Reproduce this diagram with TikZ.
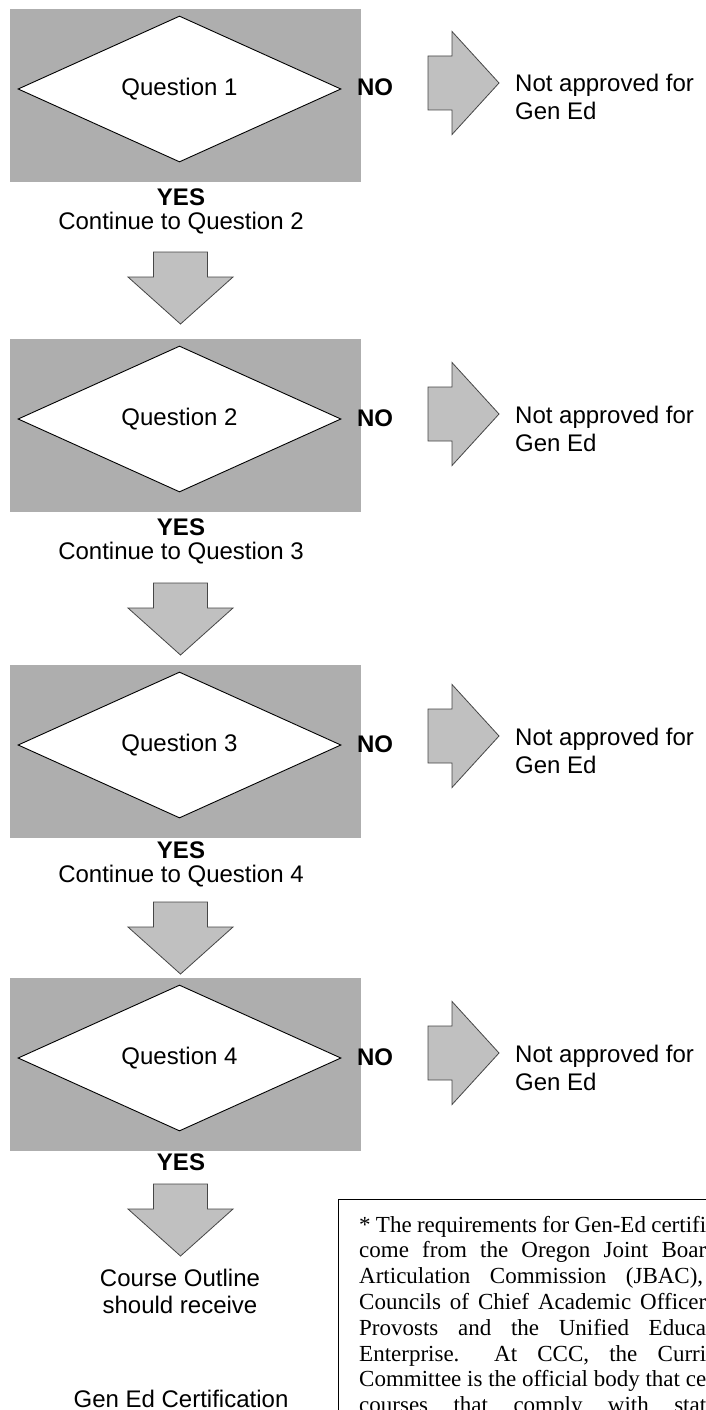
\documentclass[tikz,border=0pt]{standalone}
\usepackage{fontspec}
\setmainfont{Liberation Sans}
\newfontfamily\notefont{Liberation Serif}
\usetikzlibrary{shapes.geometric}

\definecolor{panelgray}{RGB}{174,174,174}
\definecolor{arrowfill}{RGB}{192,192,192}
\definecolor{arrowedge}{RGB}{70,70,70}

\tikzset{
  panel/.style={fill=panelgray},
  question/.style={diamond, draw=black, fill=white, line width=0.9pt,
    minimum width=323pt, minimum height=146pt, inner sep=0pt,
    font=\fontsize{24}{28}\selectfont},
  caption/.style={inner sep=0pt, anchor=base, font=\fontsize{24}{28}\selectfont},
  answer/.style={caption, font=\fontsize{24}{28}\selectfont\bfseries},
  blockarrow/.style={fill=arrowfill, draw=arrowedge, line width=0.8pt},
  rightblock/.pic={\draw[blockarrow] (0,-27) -- (24,-27) -- (24,-51.5) -- (71,0)
    -- (24,51.5) -- (24,27) -- (0,27) -- cycle;},
  downblock/.pic={\draw[blockarrow] (-27,0) -- (27,0) -- (27,25) -- (52.5,25)
    -- (0,72) -- (-52.5,25) -- (-27,25) -- cycle;},
  noteline/.style={inner sep=0pt, anchor=base west,
    font=\notefont\fontsize{23}{26}\selectfont\frenchspacing}
}
\newcommand{\justline}[2]{\hbox to #1{\spaceskip=0.25em plus 1fil minus 0.05em\relax #2}}

\begin{document}
\begin{tikzpicture}[x=1pt, y=-1pt]
\useasboundingbox (0,0) rectangle (706,1410);
\clip (0,0) rectangle (706,1410);
% the four questions
\foreach \i/\c/\r/\s in {1/89/83/197, 2/419/414/527, 3/745/736/850, 4/1058/1053/1162} {
  \fill[panel] (10,\c-80) rectangle (361,\c+92.5);
  \node[question] (q\i) at (179.5,\c) {Question \i};
  \node[answer] (no\i) at (375,\c+7) {NO};
  \pic at (428,\r) {rightblock};
  \node[caption, anchor=base west] (rej\i) at (515,\r+9) {Not approved for};
  \node[caption, anchor=base west] (gen\i) at (515,\r+37) {Gen Ed};
  \node[answer] (yes\i) at (181,\s+8.5) {YES};
}
% go on to the next question
\foreach \i/\s/\d in {2/197/252, 3/527/583, 4/850/902} {
  \node[caption] (cont\i) at (181,\s+32.5) {Continue to Question \i};
  \pic at (180.5,\d) {downblock};
}
\pic at (180.5,1184) {downblock};
\node[caption] (outline) at (180,1286.5) {Course Outline};
\node[caption] (receive) at (180,1313.5) {should receive};
\node[caption] (cert) at (181,1407) {Gen Ed Certification};
% footnote box, cut by the page edge
\draw[line width=0.9pt] (338,1199) rectangle (760,1460);
\node[noteline] (note1) at (359,1232) {\justline{347pt}{* The requirements for Gen-Ed certifi}};
\node[noteline] (note2) at (359,1257.8) {\justline{347pt}{come from the Oregon Joint Boar}};
\node[noteline] (note3) at (359,1283.6) {\justline{344pt}{Articulation Commission (JBAC),}};
\node[noteline] (note4) at (359,1309.4) {\justline{347pt}{Councils of Chief Academic Officer}};
\node[noteline] (note5) at (359,1335.2) {\justline{347pt}{Provosts and the Unified Educa}};
\node[noteline] (note6) at (359,1361) {\justline{347pt}{Enterprise. \hskip 0pt plus 1fil At CCC, the Curri}};
\node[noteline] (note7) at (359,1386.8) {\justline{347pt}{Committee is the official body that ce}};
\node[noteline] (note8) at (359,1412.6) {\justline{347pt}{courses that comply with stat}};
\end{tikzpicture}
\end{document}
